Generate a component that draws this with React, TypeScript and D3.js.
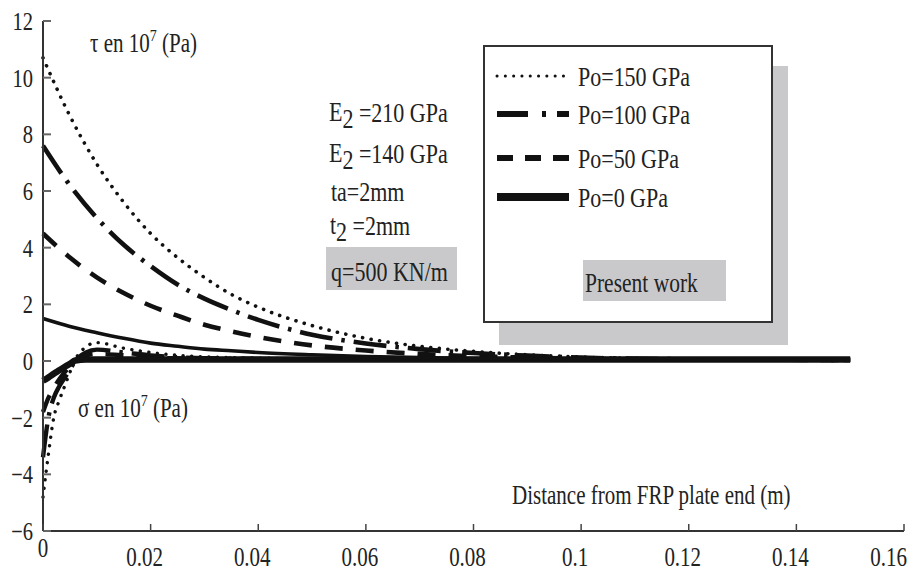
import React from "react";
import * as d3 from "d3";

// ---------- data ----------
const X_TAU = [0, 0.005, 0.01, 0.015, 0.02, 0.025, 0.03, 0.035, 0.04, 0.05, 0.06, 0.07, 0.08, 0.09, 0.1, 0.12, 0.15];
const TAU_P150 = [10.7, 8.65, 6.95, 5.6, 4.5, 3.65, 2.95, 2.35, 1.9, 1.25, 0.8, 0.52, 0.34, 0.22, 0.14, 0.07, 0.04];
const TAU_P100 = [7.6, 6.2, 5.05, 4.1, 3.35, 2.7, 2.2, 1.8, 1.45, 0.93, 0.62, 0.42, 0.28, 0.19, 0.12, 0.06, 0.04];
const TAU_P50 = [4.5, 3.65, 2.95, 2.4, 1.95, 1.6, 1.28, 1.05, 0.85, 0.55, 0.37, 0.25, 0.17, 0.12, 0.08, 0.05, 0.04];
const TAU_P0 = [1.5, 1.22, 1.0, 0.8, 0.63, 0.52, 0.42, 0.36, 0.3, 0.22, 0.16, 0.12, 0.09, 0.07, 0.05, 0.04, 0.03];

const X_SIG = [0, 0.001, 0.002, 0.003, 0.004, 0.005, 0.006, 0.008, 0.01, 0.015, 0.02, 0.03, 0.05, 0.1, 0.15];
const SIG_P150 = [-4.8, -3.3, -2.0, -1.4, -0.9, -0.4, 0.05, 0.5, 0.65, 0.45, 0.3, 0.15, 0.08, 0.05, 0.05];
const SIG_P100 = [-3.4, -2.0, -1.3, -0.9, -0.6, -0.3, 0.0, 0.3, 0.4, 0.3, 0.2, 0.1, 0.06, 0.05, 0.05];
const SIG_P50 = [-1.8, -1.3, -0.95, -0.65, -0.4, -0.18, 0.02, 0.2, 0.25, 0.2, 0.12, 0.08, 0.05, 0.05, 0.05];
const SIG_P0 = [-0.7, -0.58, -0.45, -0.33, -0.21, -0.1, 0.02, 0.05, 0.05, 0.05, 0.05, 0.05, 0.05, 0.05, 0.05];

const X_TICKS = [0, 0.02, 0.04, 0.06, 0.08, 0.1, 0.12, 0.14, 0.16];
const X_LABELS = ["0", "0.02", "0.04", "0.06", "0.08", "0.1", "0.12", "0.14", "0.16"];
const Y_TICKS = [-6, -4, -2, 0, 2, 4, 6, 8, 10, 12];
const Y_LABELS = ["\u22126", "\u22124", "\u22122", "0", "2", "4", "6", "8", "10", "12"];

const LEGEND = ["Po=150 GPa", "Po=100 GPa", "Po=50 GPa", "Po=0 GPa"];

// ---------- styles ----------
const FONT = "'Liberation Serif', 'DejaVu Serif', serif";
const INK = "#111";
const TXT = "#222";
const GREY = "#c9c9cb";

const x = d3.scaleLinear().domain([0, 0.16]).range([43, 904]);
const y = d3.scaleLinear().domain([-6, 12]).range([531, 21]);

const line = d3
  .line<[number, number]>()
  .x((d) => x(d[0]))
  .y((d) => y(d[1]))
  .curve(d3.curveMonotoneX);

const zip = (xs: number[], ys: number[]) => xs.map((v, i) => [v, ys[i]] as [number, number]);

const STYLES = [
  { dash: "0.1 8.5", width: 3.6, cap: "round", lw: 3, ldash: "0.1 8.2" },
  { dash: "33 9 3.5 9", width: 4.6, cap: "butt", lw: 6, ldash: "31 14 4 11" },
  { dash: "18 13", width: 4.6, cap: "butt", lw: 6, ldash: "16 12" },
  { dash: "none", width: 3.6, cap: "butt", lw: 8, ldash: "none" },
];

const T = ({ x: tx, y: ty, size = 21, anchor = "start", children }: any) => (
  <text
    transform={`translate(${tx},${ty}) scale(1,1.25)`}
    fontSize={size}
    textAnchor={anchor}
    dominantBaseline="central"
    fill={TXT}
    fontFamily={FONT}
  >
    {children}
  </text>
);

export default function App() {
  const tau = [TAU_P150, TAU_P100, TAU_P50, TAU_P0];
  const sig = [SIG_P150, SIG_P100, SIG_P50, SIG_P0];
  const sigWidth = [3.4, 4.4, 4.4, 6.5];
  const legendY = [76, 114, 158, 197];

  return (
    <svg
      width={920}
      height={570}
      style={{ position: "absolute", left: 0, top: 0, background: "#fff" }}
    >
      <rect x={0} y={0} width={920} height={570} fill="#fff" />

      {/* legend shadow and box */}
      <rect x={499} y={66} width={289} height={279} fill={GREY} />
      <rect x={484} y={46} width={288} height={276} fill="#fff" stroke="#333" strokeWidth={2} />

      {/* grey label boxes */}
      <rect x={326} y={247} width={131} height={43} fill={GREY} />
      <rect x={583} y={260} width={143} height={41} fill={GREY} />

      {/* sigma curves */}
      {sig.map((s, i) => (
        <path
          key={"s" + i}
          d={line(zip(X_SIG, s)) || ""}
          fill="none"
          stroke={INK}
          strokeWidth={sigWidth[i]}
          strokeDasharray={STYLES[i].dash}
          strokeLinecap={STYLES[i].cap as any}
        />
      ))}

      {/* tau curves */}
      {tau.map((s, i) => (
        <path
          key={"t" + i}
          d={line(zip(X_TAU, s)) || ""}
          fill="none"
          stroke={INK}
          strokeWidth={STYLES[i].width}
          strokeDasharray={STYLES[i].dash}
          strokeLinecap={STYLES[i].cap as any}
        />
      ))}

      {/* axes */}
      <line x1={x(0)} x2={x(0.16)} y1={y(-6)} y2={y(-6)} stroke="#333" strokeWidth={2} />
      <line x1={x(0)} x2={x(0)} y1={y(-6)} y2={y(12)} stroke="#333" strokeWidth={2} />
      {Y_TICKS.map((t, i) => (
        <g key={"yt" + t}>
          <line x1={x(0)} x2={x(0) + 8} y1={y(t)} y2={y(t)} stroke="#666" strokeWidth={2} />
          <T x={33} y={y(t)} anchor="end" size={20.5}>
            {Y_LABELS[i]}
          </T>
        </g>
      ))}
      {X_TICKS.map((t, i) => (
        <g key={"xt" + t}>
          <line x1={x(t)} x2={x(t)} y1={y(-6)} y2={y(-6) - 7} stroke="#444" strokeWidth={1.5} />
          <T
            x={i === 0 ? x(t) : i === X_TICKS.length - 1 ? 907 : x(t) - 6}
            y={i === 0 ? 548 : 557}
            anchor={i === X_TICKS.length - 1 ? "end" : "middle"}
            size={21}
          >
            {X_LABELS[i]}
          </T>
        </g>
      ))}

      {/* axis texts */}
      <T x={90} y={43} size={21}>
        τ en 10<tspan fontSize={14} dy={-7}>7</tspan>
        <tspan dy={7}> (Pa)</tspan>
      </T>
      <T x={78} y={408} size={21}>
        σ en 10<tspan fontSize={14} dy={-7}>7</tspan>
        <tspan dy={7}> (Pa)</tspan>
      </T>
      <T x={512} y={495} size={21}>
        Distance from FRP plate end (m)
      </T>

      {/* parameters */}
      <T x={329} y={112} size={22}>
        E<tspan dy={5}>2</tspan>
        <tspan dy={-5}> =210 GPa</tspan>
      </T>
      <T x={329} y={153} size={22}>
        E<tspan dy={5}>2</tspan>
        <tspan dy={-5}> =140 GPa</tspan>
      </T>
      <T x={331} y={192} size={22}>
        ta=2mm
      </T>
      <T x={330} y={225} size={22}>
        t<tspan dy={5}>2</tspan>
        <tspan dy={-5}> =2mm</tspan>
      </T>
      <T x={331} y={272} size={22}>
        q=500 KN/m
      </T>
      <T x={585} y={283} size={21.5}>
        Present work
      </T>

      {/* legend */}
      {LEGEND.map((name, i) => (
        <g key={name}>
          <line
            x1={497}
            x2={569}
            y1={legendY[i]}
            y2={legendY[i]}
            stroke={INK}
            strokeWidth={STYLES[i].lw}
            strokeDasharray={STYLES[i].ldash}
            strokeLinecap={STYLES[i].cap as any}
          />
          <T x={578} y={legendY[i] + 1} size={22}>
            {name}
          </T>
        </g>
      ))}
    </svg>
  );
}
